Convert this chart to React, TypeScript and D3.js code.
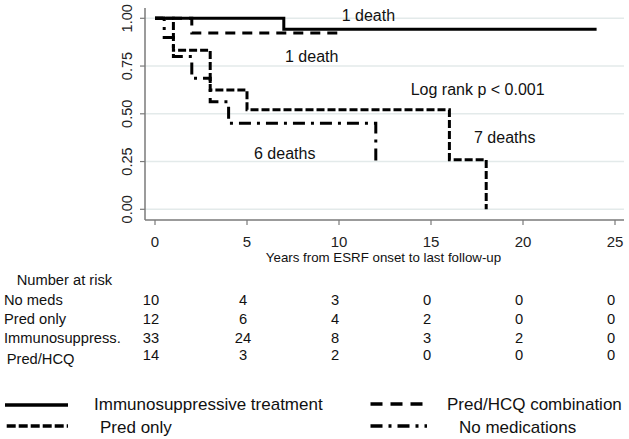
import React from "react";
import * as d3 from "d3";

const xTicks = [0, 5, 10, 15, 20, 25];
const yTicks = [0, 0.25, 0.5, 0.75, 1];
const yTickLabels = ["0.00", "0.25", "0.50", "0.75", "1.00"];

// Kaplan-Meier step data (time in years, survival)
const immunoTimes = [0, 7, 24];
const immunoSurv = [1, 0.943, 0.943];
const predHcqTimes = [0, 2, 10];
const predHcqSurv = [1, 0.923, 0.923];
const predOnlyTimes = [0, 1, 3, 5, 16, 18];
const predOnlySurv = [1, 0.833, 0.625, 0.521, 0.26, 0];
const noMedsTimes = [0, 0.5, 1, 2, 3, 4, 12];
const noMedsSurv = [1, 0.9, 0.8, 0.686, 0.5625, 0.45, 0.225];

const riskRows = ["No meds", "Pred only", "Immunosuppress.", "Pred/HCQ"];
const riskTimes = [0, 5, 10, 15, 20, 25];
const riskNoMeds = [10, 4, 3, 0, 0, 0];
const riskPredOnly = [12, 6, 4, 2, 0, 0];
const riskImmuno = [33, 24, 8, 3, 2, 0];
const riskPredHcq = [14, 3, 2, 0, 0, 0];

const FONT = "'Liberation Sans', Arial, Helvetica, sans-serif";

export default function App() {
  const x = d3.scaleLinear().domain([0, 25]).range([155, 615]);
  const y = d3.scaleLinear().domain([0, 1]).range([209.3, 18.3]);
  const line = d3
    .line<[number, number]>()
    .x((d) => x(d[0]))
    .y((d) => y(d[1]))
    .curve(d3.curveStepAfter);
  const mk = (t: number[], s: number[]) =>
    line(t.map((tt, i) => [tt, s[i]] as [number, number])) || "";

  const series = [
    { d: mk(immunoTimes, immunoSurv), dash: undefined, w: 3 },
    { d: mk(predHcqTimes, predHcqSurv), dash: "10,7", w: 3 },
    { d: mk(predOnlyTimes, predOnlySurv), dash: "8,3", w: 3 },
    { d: mk(noMedsTimes, noMedsSurv), dash: "12,6,3,6", w: 3 },
  ];

  const riskData = [riskNoMeds, riskPredOnly, riskImmuno, riskPredHcq];
  const rowBase = [305, 324, 342.7, 360];
  const labelBase = [305, 324, 342.7, 364.3];
  const labelX = [4, 4, 4, 6.7];

  return (
    <div style={{ position: "absolute", left: 0, top: 0 }}>
      <svg width={629} height={439} style={{ display: "block", background: "#fff" }} fontFamily={FONT}>
        <rect width={629} height={439} fill="#fff" />
        {/* grid */}
        {yTicks.map((v) => (
          <line key={"g" + v} x1={145} x2={624} y1={y(v)} y2={y(v)} stroke="#e3eaea" strokeWidth={1.5} />
        ))}
        {/* axes */}
        <line x1={145} x2={145} y1={8} y2={220} stroke="#7a7a7a" strokeWidth={1.5} />
        <line x1={145} x2={624} y1={220} y2={220} stroke="#7a7a7a" strokeWidth={1.5} />
        {yTicks.map((v, i) => (
          <g key={"yt" + v}>
            <line x1={140} x2={145} y1={y(v)} y2={y(v)} stroke="#7a7a7a" strokeWidth={1.2} />
            <text
              transform={`translate(132,${y(v)}) rotate(-90)`}
              textAnchor="middle"
              fontSize={14.5}
              fill="#222"
            >
              {yTickLabels[i]}
            </text>
          </g>
        ))}
        {xTicks.map((t) => (
          <g key={"xt" + t}>
            <line x1={x(t)} x2={x(t)} y1={220} y2={225} stroke="#7a7a7a" strokeWidth={1.2} />
            <text x={x(t)} y={247} textAnchor="middle" fontSize={15} fill="#222">
              {t}
            </text>
          </g>
        ))}
        <text x={383.5} y={262} textAnchor="middle" fontSize={13.3} fill="#111">
          Years from ESRF onset to last follow-up
        </text>

        {/* curves */}
        {series.map((s, i) => (
          <path
            key={"s" + i}
            d={s.d}
            fill="none"
            stroke="#000"
            strokeWidth={s.w}
            strokeDasharray={s.dash}
          />
        ))}

        {/* annotations */}
        <g fontSize={16} fill="#111">
          <text x={341.7} y={20.7}>1 death</text>
          <text x={285} y={61.7}>1 death</text>
          <text x={410.7} y={95}>Log rank p &lt; 0.001</text>
          <text x={474} y={143.3}>7 deaths</text>
          <text x={254} y={159.3}>6 deaths</text>
        </g>

        {/* number at risk table */}
        <g fontSize={14.7} fill="#111">
          <text x={16.7} y={285}>Number at risk</text>
          {riskRows.map((r, i) => (
            <text key={"rl" + i} x={labelX[i]} y={labelBase[i]}>
              {r}
            </text>
          ))}
          {riskData.map((row, i) =>
            row.map((n, j) => (
              <text key={`n${i}-${j}`} x={x(riskTimes[j]) - 4} y={rowBase[i]} textAnchor="middle">
                {n}
              </text>
            ))
          )}
        </g>

        {/* legend */}
        <g fontSize={17} fill="#111">
          <line x1={5} x2={68} y1={405} y2={405} stroke="#000" strokeWidth={3.5} />
          <text x={94} y={410}>Immunosuppressive treatment</text>
          <line x1={6.7} x2={68} y1={426} y2={426} stroke="#000" strokeWidth={3.5} strokeDasharray="9,3" />
          <text x={100} y={433}>Pred only</text>
          <line x1={370.5} x2={425} y1={404} y2={404} stroke="#000" strokeWidth={3.5} strokeDasharray="12,8" />
          <text x={447} y={410}>Pred/HCQ combination</text>
          <line x1={370.5} x2={427} y1={426} y2={426} stroke="#000" strokeWidth={3.5} strokeDasharray="12,6,3,6" />
          <text x={459} y={433}>No medications</text>
        </g>
      </svg>
    </div>
  );
}
